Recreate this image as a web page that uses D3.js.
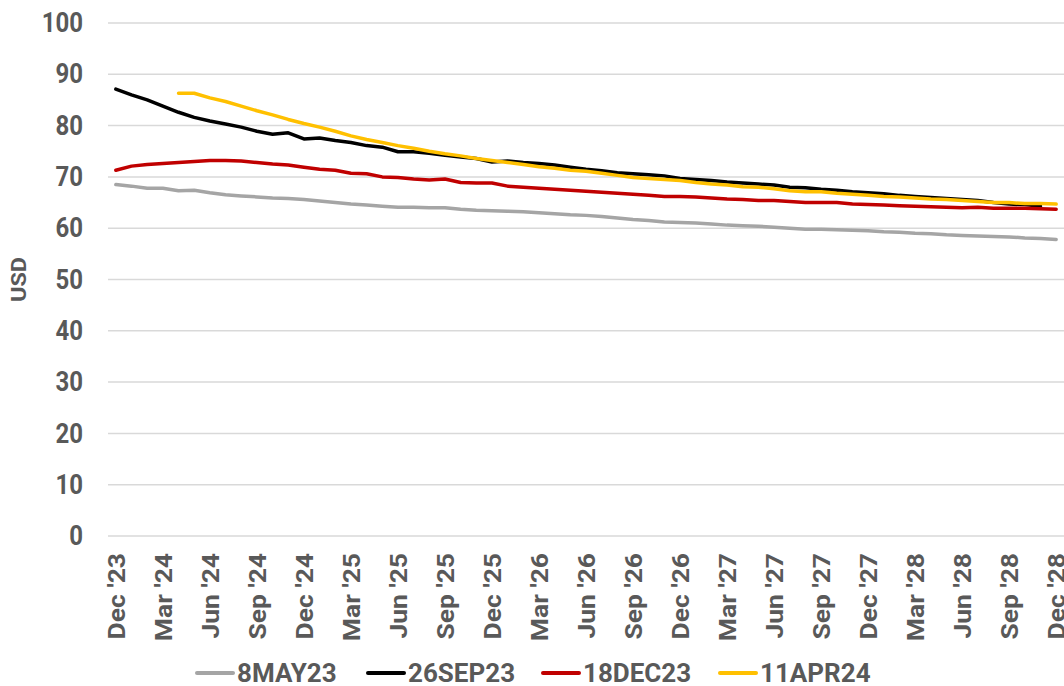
<!DOCTYPE html>
<html><head><meta charset="utf-8">
<script src="https://cdn.jsdelivr.net/npm/d3@7"></script>
<style>
body{margin:0;background:#fff;}
text{font-family:Roboto,"Liberation Sans",sans-serif;font-weight:bold;fill:#595959;}
</style></head>
<body><svg id="c" width="1064" height="686"></svg>
<script>
const months = ["Dec '23","Jan '24","Feb '24","Mar '24","Apr '24","May '24","Jun '24","Jul '24","Aug '24","Sep '24","Oct '24","Nov '24",
"Dec '24","Jan '25","Feb '25","Mar '25","Apr '25","May '25","Jun '25","Jul '25","Aug '25","Sep '25","Oct '25","Nov '25",
"Dec '25","Jan '26","Feb '26","Mar '26","Apr '26","May '26","Jun '26","Jul '26","Aug '26","Sep '26","Oct '26","Nov '26",
"Dec '26","Jan '27","Feb '27","Mar '27","Apr '27","May '27","Jun '27","Jul '27","Aug '27","Sep '27","Oct '27","Nov '27",
"Dec '27","Jan '28","Feb '28","Mar '28","Apr '28","May '28","Jun '28","Jul '28","Aug '28","Sep '28","Oct '28","Nov '28","Dec '28"];
const xTickLabels = ["Dec '23","Mar '24","Jun '24","Sep '24","Dec '24","Mar '25","Jun '25","Sep '25","Dec '25","Mar '26","Jun '26","Sep '26","Dec '26","Mar '27","Jun '27","Sep '27","Dec '27","Mar '28","Jun '28","Sep '28","Dec '28"];
const yTicks = [0,10,20,30,40,50,60,70,80,90,100];
const seriesNames = ["8MAY23","26SEP23","18DEC23","11APR24"];
const seriesColors = ["#A5A5A5","#000000","#C00000","#FFC000"];

const s8MAY23 = [68.5,68.2,67.8,67.8,67.3,67.4,66.9,66.5,66.3,66.1,65.9,65.8,65.6,65.3,65.0,64.7,64.5,64.3,64.1,64.1,64.0,64.0,63.7,63.5,63.4,63.3,63.2,63.0,62.8,62.6,
62.5,62.3,62.0,61.7,61.5,61.2,61.1,61.0,60.8,60.6,60.5,60.4,60.2,60.0,59.8,59.8,59.7,59.6,59.5,59.3,59.2,59.0,58.9,58.7,58.6,58.5,58.4,58.3,58.1,58.0,57.8];
const s26SEP23 = [87.1,86.0,85.0,83.8,82.6,81.6,80.9,80.3,79.7,78.9,78.3,78.6,77.4,77.6,77.1,76.7,76.1,75.8,74.9,74.9,74.6,74.2,73.9,73.6,72.9,73.1,72.8,72.6,72.3,71.9,
71.5,71.2,70.8,70.6,70.4,70.2,69.7,69.5,69.3,69.0,68.8,68.6,68.4,68.0,67.9,67.6,67.4,67.1,66.9,66.7,66.4,66.2,66.0,65.8,65.6,65.4,65.0,64.7,64.6,64.3,null];
const s18DEC23 = [71.3,72.1,72.4,72.6,72.8,73.0,73.2,73.2,73.1,72.8,72.5,72.3,71.9,71.5,71.3,70.7,70.6,70.0,69.9,69.6,69.4,69.6,68.9,68.8,68.8,68.2,68.0,67.8,67.6,67.4,
67.2,67.0,66.8,66.6,66.4,66.2,66.2,66.1,65.9,65.7,65.6,65.4,65.4,65.2,65.0,65.0,65.0,64.7,64.6,64.5,64.4,64.3,64.2,64.1,64.0,64.1,63.9,63.9,63.9,63.8,63.7];
const s11APR24 = [null,null,null,null,86.3,86.3,85.4,84.7,83.8,82.9,82.1,81.2,80.4,79.7,78.9,78.0,77.3,76.7,76.1,75.6,75.0,74.5,74.1,73.6,73.2,72.8,72.4,72.0,71.7,71.3,
71.1,70.7,70.3,69.9,69.7,69.5,69.3,68.9,68.6,68.4,68.1,68.0,67.7,67.3,67.1,67.1,66.8,66.6,66.4,66.2,66.1,65.9,65.7,65.6,65.4,65.2,65.0,65.0,64.8,64.8,64.7];
const seriesValues = [s8MAY23, s26SEP23, s18DEC23, s11APR24];

const svg = d3.select("#c");
const plot = {left:108, right:1064, top:23, bottom:536};
const x = d3.scalePoint().domain(months).range([plot.left, plot.right]).padding(0.5);
const y = d3.scaleLinear().domain([0,100]).range([plot.bottom, plot.top]);

// gridlines
svg.append("g").selectAll("line").data(yTicks).join("line")
  .attr("x1", plot.left).attr("x2", plot.right)
  .attr("y1", d=>y(d)).attr("y2", d=>y(d))
  .attr("stroke","#D9D9D9").attr("stroke-width",1.5);

// y axis labels
const yAxis = svg.append("g").attr("transform",`translate(${plot.left},0)`)
  .call(d3.axisLeft(y).tickValues(yTicks).tickSize(0).tickPadding(25));
yAxis.select(".domain").remove();
yAxis.selectAll("text").attr("transform","scale(1,1.13)")
  .style("font-size","24px").attr("fill","#595959").style("font-family","Roboto").style("font-weight","bold");

svg.append("text").attr("transform",`translate(26,${y(50)}) rotate(-90) scale(1.12,1)`)
  .attr("text-anchor","middle").style("font-size","21px").text("USD");

// x axis labels
const xAxis = svg.append("g").attr("transform",`translate(0,${plot.bottom})`)
  .call(d3.axisBottom(x).tickValues(xTickLabels).tickSize(0).tickPadding(0));
xAxis.select(".domain").remove();
xAxis.selectAll("text")
  .attr("transform","rotate(-90) scale(1.15,1)")
  .attr("text-anchor","end").attr("dy","0.36em").attr("x",-14.8).attr("y",0)
  .style("font-size","23px").attr("fill","#595959").style("font-family","Roboto").style("font-weight","bold");

// lines
const line = d3.line().defined(d=>d.v!==null).x(d=>x(d.m)).y(d=>y(d.v));
seriesValues.forEach((vals,i)=>{
  svg.append("path")
    .datum(vals.map((v,j)=>({m:months[j], v})))
    .attr("fill","none").attr("stroke",seriesColors[i]).attr("stroke-width",3.5)
    .attr("stroke-linejoin","round").attr("stroke-linecap","round")
    .attr("d", line);
});

// legend
const legendX = [195, 366, 541, 718];
const lg = svg.append("g");
seriesNames.forEach((n,i)=>{
  const g = lg.append("g").attr("transform",`translate(${legendX[i]},673)`);
  g.append("line").attr("x1",2).attr("x2",38).attr("y1",0).attr("y2",0)
    .attr("stroke",seriesColors[i]).attr("stroke-width",4).attr("stroke-linecap","round");
  g.append("text").attr("x",42).attr("y",0).attr("dy","0.36em").style("font-size","26px").text(n);
});
</script></body></html>
